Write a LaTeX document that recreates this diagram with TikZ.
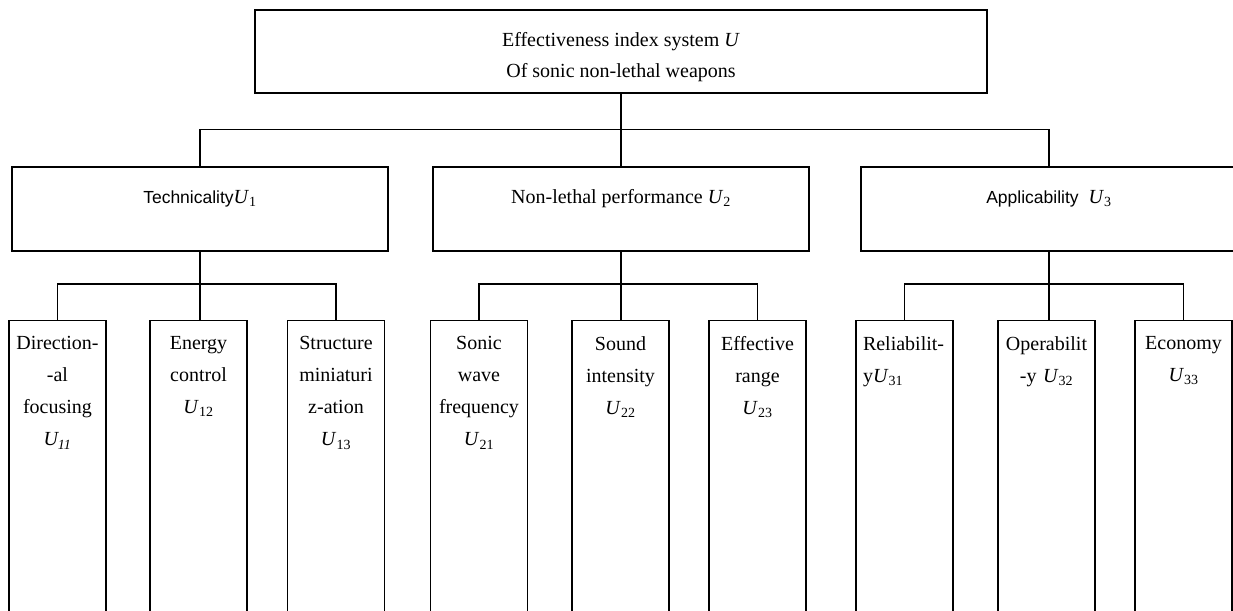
\documentclass[tikz,border=0pt]{standalone}
\usepackage{fontspec}
\setmainfont{Liberation Serif}
\newfontfamily\arialfont{Liberation Sans}
\usetikzlibrary{positioning}

\newcommand\idx[1]{\textit{U}\textsubscript{#1}}

\tikzset{
  wire/.style={line width=1.4pt},
  box/.style={draw,wire,inner sep=0pt},
  midbox/.style={box,minimum width=376pt,minimum height=84pt},
  leaf/.style={box,anchor=north,minimum width=97pt,minimum height=300pt},
  leaftext/.style={inner sep=0pt,text width=95pt,align=center,font=\fontsize{20}{32}\selectfont},
  midtext/.style={inner sep=0pt,anchor=base,font=\fontsize{20}{24}\selectfont}
}

\begin{document}
\begin{tikzpicture}[x=1pt,y=-1pt]
  \clip (0,0) rectangle (1233,610);
  % top level
  \node[box,minimum width=732pt,minimum height=83pt] (u) at (621,51.5) {};
  \node[inner sep=0pt,align=center,font=\fontsize{20}{31}\selectfont,below=23pt of u.north] (ut)
    {Effectiveness index system \textit{U}\\Of sonic non-lethal weapons};
  % second level
  \node[midbox] (u1) at (200,209) {};
  \node[midbox] (u2) at (621,209) {};
  \node[midbox] (u3) at (1049,209) {};
  \node[midtext] (u1t) at ([yshift=-37pt]u1.north) {{\arialfont\fontsize{17.5}{20}\selectfont Technicality}\idx{1}};
  \node[midtext] (u2t) at ([yshift=-37pt]u2.north) {Non-lethal performance \idx{2}};
  \node[midtext] (u3t) at ([yshift=-37pt]u3.north) {{\arialfont\fontsize{17.5}{20}\selectfont Applicability}\ \ \idx{3}};
  % third level
  \foreach \n/\x in {11/57.5,12/198.5,13/336,21/479,22/620.5,23/757.5,31/904.5,32/1046.5,33/1183.5}
    \node[leaf] (u\n) at (\x,320) {};
  \node[leaftext,below=16.5pt of u11.north] (t11) {Direction-\\-al\\focusing\\\textit{U\textsubscript{11}}};
  \node[leaftext,below=16.5pt of u12.north] (t12) {Energy\\control\\\idx{12}};
  \node[leaftext,below=16.5pt of u13.north] (t13) {Structure\\miniaturi\\z-ation\\\idx{13}};
  \node[leaftext,below=16.5pt of u21.north] (t21) {Sonic\\wave\\frequency\\\idx{21}};
  \node[leaftext,below=16.5pt of u22.north] (t22) {Sound\\intensity\\\idx{22}};
  \node[leaftext,below=16.5pt of u23.north] (t23) {Effective\\range\\\idx{23}};
  \node[leaftext,text width=83pt,align=left,below=16.5pt of u31.north] (t31) {Reliabilit-\\y\idx{31}};
  \node[leaftext,below=16.5pt of u32.north] (t32) {Operabilit\\-y \idx{32}};
  \node[leaftext,below=16.5pt of u33.north] (t33) {Economy\\\idx{33}};
  % connectors
  \draw[wire] (u.south) -- (u2.north);
  \draw[wire] (u1.north) -- ++(0,-37) -| (u3.north);
  \foreach \g in {1,2,3}{
    \draw[wire] (u\g.south) -- (u\g.south |- u\g2.north);
    \draw[wire] (u\g1.north) -- ++(0,-36) -| (u\g3.north);
  }
\end{tikzpicture}
\end{document}
